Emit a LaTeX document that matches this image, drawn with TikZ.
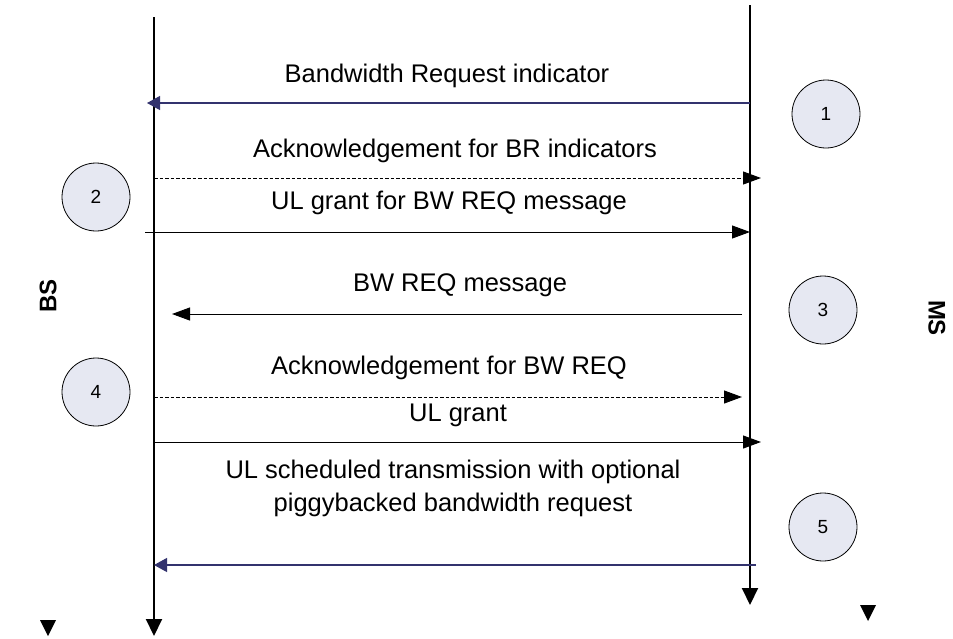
\documentclass[tikz,border=0pt]{standalone}
\usepackage{fontspec}
\setmainfont{Liberation Sans}
\usetikzlibrary{arrows.meta}
\definecolor{navy}{RGB}{51,51,110}
\definecolor{circfill}{RGB}{230,232,242}
\begin{document}
\begin{tikzpicture}[x=1pt,y=-1pt,
  lbl/.style={font=\fontsize{25.5}{30}\selectfont, inner sep=0pt, anchor=base},
  side/.style={font=\fontsize{24}{28}\selectfont\bfseries, inner sep=0pt},
  numc/.style={circle, draw=black, line width=0.8pt, fill=circfill, minimum size=68pt, inner sep=0pt, font=\fontsize{19}{22}\selectfont},
  life/.style={line width=2pt, -{Triangle[length=17pt,width=16pt]}},
  msg/.style={line width=1pt, -{Triangle[length=18pt,width=13pt]}},
  navymsg/.style={line width=1.2pt, draw=navy, -{Triangle[length=13pt,width=14pt,fill=navy]}},
  dmsg/.style={msg, dash pattern=on 3.5pt off 2pt},
  tri/.style={fill=black},
]
\useasboundingbox (0,0) rectangle (953,638);

% lifelines
\coordinate (bsT) at (154,17);
\coordinate (bsB) at (154,636);
\coordinate (msT) at (750,5);
\coordinate (msB) at (750,605);
\draw[life] (bsT) -- (bsB);
\draw[life] (msT) -- (msB);

% standalone triangles
\fill[tri] (40,620) -- (56,620) -- (48,636) -- cycle;
\fill[tri] (860,605) -- (876,605) -- (868,621) -- cycle;

% side labels
\node[side, rotate=90] (bs) at (48,296) {BS};
\node[side, rotate=-90] (ms) at (937,318) {MS};

% circles
\node[numc] (c1) at (826,114) {1};
\node[numc] (c2) at (96,197) {2};
\node[numc] (c3) at (823,310) {3};
\node[numc] (c4) at (96,392) {4};
\node[numc] (c5) at (823,527) {5};

% messages
\node[lbl] (t1) at (447,82) {Bandwidth Request indicator};
\coordinate (a1s) at (750,103); \coordinate (a1e) at (147,103);
\draw[navymsg] (a1s) -- (a1e);

\node[lbl] (t2) at (455,157) {Acknowledgement for BR indicators};
\coordinate (a2s) at (154,178); \coordinate (a2e) at (761,178);
\draw[dmsg] (a2s) -- (a2e);

\node[lbl] (t3) at (449,209) {UL grant for BW REQ message};
\coordinate (a3s) at (145,232); \coordinate (a3e) at (750,232);
\draw[msg] (a3s) -- (a3e);

\node[lbl] (t4) at (460,291) {BW REQ message};
\coordinate (a4s) at (742,314); \coordinate (a4e) at (172,314);
\draw[msg] (a4s) -- (a4e);

\node[lbl] (t5) at (449,374) {Acknowledgement for BW REQ};
\coordinate (a5s) at (154,397); \coordinate (a5e) at (742,397);
\draw[dmsg] (a5s) -- (a5e);

\node[lbl] (t6) at (458,421) {UL grant};
\coordinate (a6s) at (154,442); \coordinate (a6e) at (761,442);
\draw[msg] (a6s) -- (a6e);

\node[lbl] (t7a) at (453,478) {UL scheduled transmission with optional};
\node[lbl] (t7b) at (453,511) {piggybacked bandwidth request};
\coordinate (a7s) at (756,565); \coordinate (a7e) at (154,565);
\draw[navymsg] (a7s) -- (a7e);
\end{tikzpicture}
\end{document}
